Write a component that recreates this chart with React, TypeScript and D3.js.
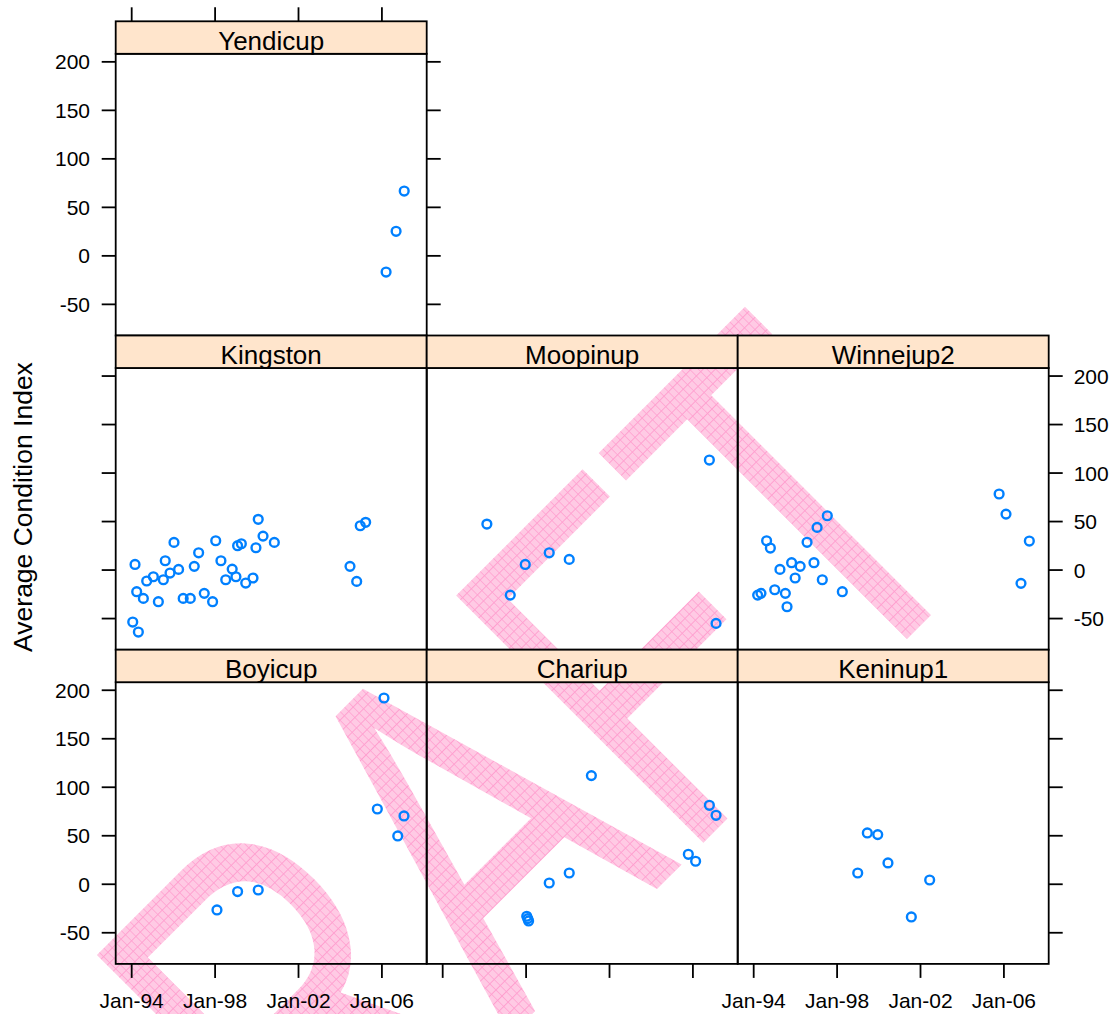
import React from "react";
import * as d3 from "d3";

// ---------- data (decimal years, condition index) ----------
const panelNames = ["Yendicup", "Kingston", "Moopinup", "Winnejup2", "Boyicup", "Chariup", "Keninup1"];

const yendicupX = [2006.2, 2006.68, 2007.07];
const yendicupY = [-16.7, 25.3, 66.8];

const kingstonX = [2000.07, 2005.22, 2004.96, 2000.3, 2000.84, 1996.03, 1998.03, 1999.26, 1999.08, 1999.96, 1997.21, 1995.61, 1998.28, 1994.16, 1997.0, 2004.47, 1996.25, 1995.84, 1998.82, 1995.04, 1995.52, 1994.72, 1999.0, 1998.51, 1999.82, 1999.47, 2004.79, 1994.24, 1997.48, 1994.56, 1996.47, 1996.81, 1995.28, 1997.88, 1994.05, 1994.32];
const kingstonY = [52.3, 49.2, 45.7, 35, 28.5, 28.5, 30.2, 27.1, 25.1, 23, 17.8, 9.6, 9.6, 5.8, 3.8, 3.8, 0.7, -3.1, 1, -6.9, -10, -11.3, -6.9, -10, -8.2, -13.4, -11.7, -22.3, -24, -29.2, -29.2, -29.2, -32.6, -32.6, -53.6, -63.9];

const moopinupX = [2006.79, 1996.12, 1999.11, 2000.07, 1997.96, 1997.24, 2007.11];
const moopinupY = [113.4, 47.4, 17.8, 11, 5.8, -25.8, -55];

const winnejupX = [2005.77, 2006.1, 2007.22, 2006.82, 1997.53, 1997.04, 1996.56, 1994.62, 1994.8, 1996.89, 1995.82, 1996.23, 1995.26, 1995.99, 1997.29, 1998.25, 1995.01, 1995.52, 1994.35, 1994.19, 1995.6];
const winnejupY = [78.4, 57.7, 29.9, -13.7, 56, 44, 28.6, 30.2, 22.7, 7.6, 7.6, 3.8, 0.7, -8.2, -10, -22.3, -20.3, -24, -24, -25.8, -37.8];

const boyicupX = [2006.1, 2005.78, 2007.06, 2006.76, 2000.07, 1999.08, 1998.09];
const boyicupY = [192, 77.6, 70.4, 49.8, -5.9, -7.5, -26.5];

const chariupX = [2001.13, 2006.79, 2007.11, 2005.78, 2006.13, 2000.07, 1999.11, 1998.03, 1998.08, 1998.12];
const chariupY = [112, 81.4, 71.1, 30.9, 23.7, 11.6, 1.3, -33, -35.4, -37.8];

const keninupX = [1999.45, 1999.95, 2000.44, 1998.99, 2002.44, 2001.56];
const keninupY = [52.9, 51.2, 22, 11.6, 4.4, -33.7];

const yTicks = [-50, 0, 50, 100, 150, 200];
const xTickYears = [1994, 1998, 2002, 2006];
const xTickLabels = ["Jan-94", "Jan-98", "Jan-02", "Jan-06"];
const yLabel = "Average Condition Index";
const watermark = "DRAFT";

// panel grid positions (row, col)
const panelRows = [0, 1, 1, 1, 2, 2, 2];
const panelCols = [0, 0, 1, 2, 0, 1, 2];
const panelXs = [yendicupX, kingstonX, moopinupX, winnejupX, boyicupX, chariupX, keninupX];
const panelYs = [yendicupY, kingstonY, moopinupY, winnejupY, boyicupY, chariupY, keninupY];

// ---------- layout ----------
const W = 1118;
const H = 1014;
const colLeft0 = 115.7;
const colPitch = 311;
const panelW = 311;
const rowTop0 = 21.3;
const rowPitch = 314.2;
const stripH = 32.5;
const panelH = 281.7;
const tickLen = 14;
const FONT = "'Liberation Sans', Arial, Helvetica, sans-serif";

const yearToDate = (y: number) => {
  const yr = Math.floor(y);
  const start = new Date(yr, 0, 1).getTime();
  const end = new Date(yr + 1, 0, 1).getTime();
  return new Date(start + (y - yr) * (end - start));
};

const xScale = d3.scaleTime().domain([yearToDate(1993.2326), yearToDate(2008.149)]).range([0, panelW]);
const yScale = d3.scaleLinear().domain([-82.1, 208.3]).range([panelH, 0]);

const colX = (c: number) => colLeft0 + c * colPitch;
const stripTop = (r: number) => rowTop0 + r * rowPitch;
const panelTop = (r: number) => stripTop(r) + stripH;

export default function App() {
  const xTickDates = xTickYears.map((y) => new Date(y, 0, 1));
  const lineCol = "#000";
  const lw = 1.8;
  const axFont = 21;

  const leftAxis = (r: number, labels: boolean) => (
    <g key={"la" + r}>
      {yTicks.map((t) => (
        <g key={t}>
          <line x1={colX(0) - tickLen} x2={colX(0)} y1={panelTop(r) + yScale(t)} y2={panelTop(r) + yScale(t)} stroke={lineCol} strokeWidth={lw} />
          {labels && (
            <text x={90} y={panelTop(r) + yScale(t)} dy="0.36em" textAnchor="end" fontSize={axFont} fontFamily={FONT}>{t}</text>
          )}
        </g>
      ))}
    </g>
  );

  const rightAxis = (r: number, c: number, labels: boolean) => (
    <g key={"ra" + r + c}>
      {yTicks.map((t) => (
        <g key={t}>
          <line x1={colX(c) + panelW} x2={colX(c) + panelW + tickLen} y1={panelTop(r) + yScale(t)} y2={panelTop(r) + yScale(t)} stroke={lineCol} strokeWidth={lw} />
          {labels && (
            <text x={colX(c) + panelW + 25} y={panelTop(r) + yScale(t)} dy="0.36em" textAnchor="start" fontSize={axFont} fontFamily={FONT}>{t}</text>
          )}
        </g>
      ))}
    </g>
  );

  const bottomAxis = (c: number, labels: boolean) => {
    const yb = panelTop(2) + panelH;
    return (
      <g key={"ba" + c}>
        {xTickDates.map((d, i) => (
          <g key={i}>
            <line x1={colX(c) + xScale(d)} x2={colX(c) + xScale(d)} y1={yb} y2={yb + tickLen} stroke={lineCol} strokeWidth={lw} />
            {labels && (
              <text x={colX(c) + xScale(d)} y={1008} textAnchor="middle" fontSize={axFont} fontFamily={FONT}>{xTickLabels[i]}</text>
            )}
          </g>
        ))}
      </g>
    );
  };

  const topAxis = (c: number) => (
    <g key={"ta" + c}>
      {xTickDates.map((d, i) => (
        <line key={i} x1={colX(c) + xScale(d)} x2={colX(c) + xScale(d)} y1={stripTop(0)} y2={stripTop(0) - tickLen} stroke={lineCol} strokeWidth={lw} />
      ))}
    </g>
  );

  return (
    <svg width={W} height={H} style={{ position: "absolute", left: 0, top: 0, background: "#fff" }} xmlns="http://www.w3.org/2000/svg">
      <defs>
        <pattern id="hatch" width="8.6" height="8.6" patternUnits="userSpaceOnUse">
          <rect width="8.6" height="8.6" fill="#ffcae4" />
          <path d="M0 0.5 H8.6 M0.5 0 V8.6" stroke="#ff9fcf" strokeWidth="1" />
        </pattern>
      </defs>
      <rect width={W} height={H} fill="#fff" />

      {/* watermark */}
      <g transform="translate(136,1410) rotate(-45) scale(0.72,1)">
        <text x={0} y={0} fontSize={508} fontFamily={FONT} fill="url(#hatch)">{watermark}</text>
      </g>

      {/* panels */}
      {panelNames.map((name, i) => {
        const r = panelRows[i];
        const c = panelCols[i];
        const xs = panelXs[i];
        const ys = panelYs[i];
        return (
          <g key={name}>
            <g transform={`translate(${colX(c)},${panelTop(r)})`}>
              {xs.map((x, j) => (
                <circle key={j} cx={xScale(yearToDate(x))} cy={yScale(ys[j])} r={4.4} fill="none" stroke="#0080ff" strokeWidth={2.4} />
              ))}
              <rect x={0} y={0} width={panelW} height={panelH} fill="none" stroke={lineCol} strokeWidth={lw} />
            </g>
            <g transform={`translate(${colX(c)},${stripTop(r)})`}>
              <rect x={0} y={0} width={panelW} height={stripH} fill="#ffe5cc" stroke={lineCol} strokeWidth={lw} />
              <text x={panelW / 2} y={28.7} textAnchor="middle" fontSize={26} fontFamily={FONT}>{name}</text>
            </g>
          </g>
        );
      })}

      {/* axes */}
      {leftAxis(0, true)}
      {leftAxis(1, false)}
      {leftAxis(2, true)}
      {rightAxis(0, 0, false)}
      {rightAxis(1, 2, true)}
      {rightAxis(2, 2, false)}
      {topAxis(0)}
      {bottomAxis(0, true)}
      {bottomAxis(1, false)}
      {bottomAxis(2, true)}

      {/* y label */}
      <text transform="translate(32,507) rotate(-90)" textAnchor="middle" fontSize={26.5} fontFamily={FONT}>{yLabel}</text>
    </svg>
  );
}
